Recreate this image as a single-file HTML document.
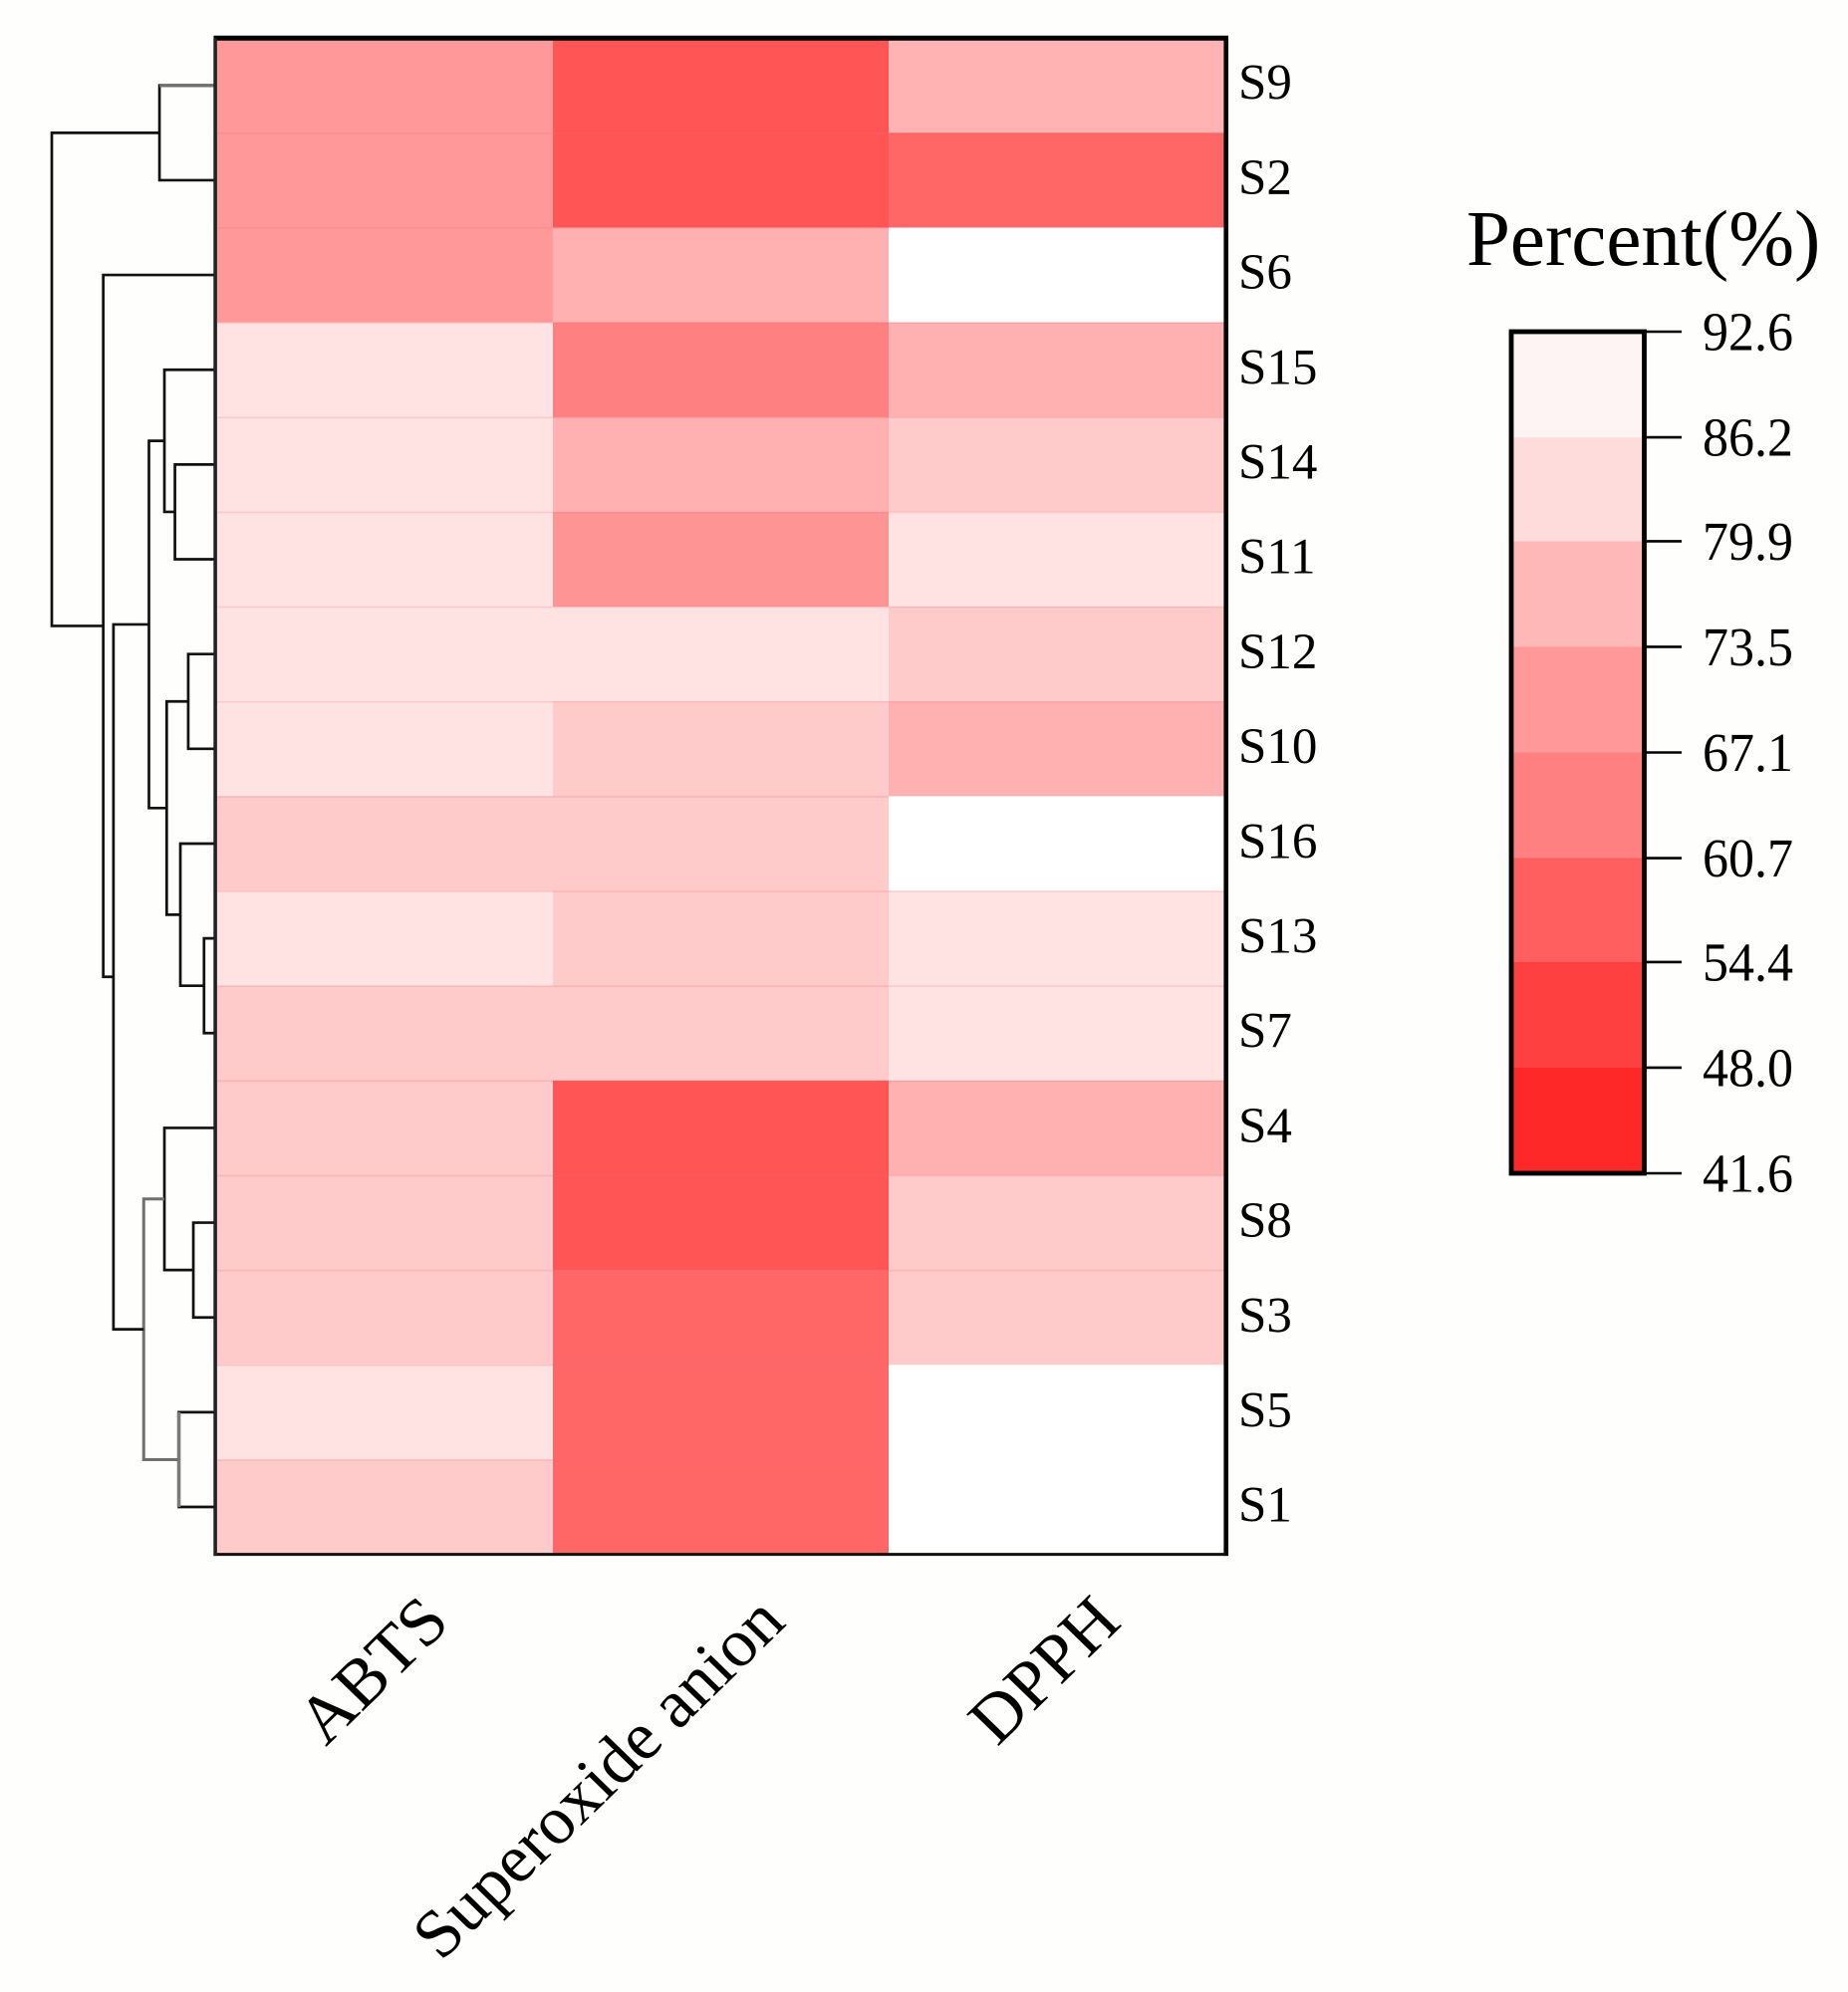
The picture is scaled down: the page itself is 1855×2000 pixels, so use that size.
<!DOCTYPE html>
<html lang="en">
<head>
<meta charset="utf-8">
<title>Antioxidant activity heatmap</title>
<style>
html,body{margin:0;padding:0;background:#fefefd;}
svg{display:block;}
text{font-family:"Liberation Serif",serif;fill:#000;}
</style>
</head>
<body>
<svg id="chart" xmlns="http://www.w3.org/2000/svg" width="1855" height="2000" viewBox="0 0 1855 2000">
<rect x="0" y="0" width="1855" height="2000" fill="#fefefd"/>
<g id="cells"></g>
<g id="dendrogram"></g>
<g id="frame"></g>
<g id="rowLabels"></g>
<g id="colLabels"></g>
<text x="1472" y="266" font-size="79">Percent(%)</text>
<g id="legend"></g>
</svg>
<script>
const rowNames = ["S9","S2","S6","S15","S14","S11","S12","S10","S16","S13","S7","S4","S8","S3","S5","S1"];
const colNames = ["ABTS","Superoxide anion","DPPH"];
const abtsValues = [69.5,69.5,69.2,86.3,86.3,86.3,86.3,86.3,80.6,86.3,80.6,80.6,80.6,80.6,86.3,80.6];
const superoxideValues = [54.1,54.1,74.7,63.8,74.7,68.3,86.3,80.6,80.6,80.6,80.6,54.1,54.1,58.0,58.0,58.0];
const dpphValues = [75.4,58.0,92.6,74.7,80.6,86.3,80.6,74.7,92.6,86.3,86.3,74.7,80.6,80.6,92.6,92.6];
const legendTicks = [92.6,86.2,79.9,73.5,67.1,60.7,54.4,48.0,41.6];
const legendLevels = [90.1,84.7,76.5,69.5,63.8,56.3,49.3,43.9];
/* dendrogram merges: [left child, right child, merge distance]; numbers are earlier merges by id */
const merges = [
  ["S9","S2",34.5],
  ["S14","S11",25.1],
  ["S15",1,31.5],
  ["S12","S10",17.0],
  ["S13","S7",7.4],
  ["S16",4,21.8],
  [3,5,30.1],
  [2,6,40.9],
  ["S8","S3",13.9],
  ["S4",8,31.5],
  ["S5","S1",22.7],
  [9,10,44.1],
  [7,11,62.5],
  ["S6",12,68.7],
  [0,13,100]
];

const NS = "http://www.w3.org/2000/svg";
function make(tag, attrs, parent) {
  const el = document.createElementNS(NS, tag);
  for (const k in attrs) el.setAttribute(k, attrs[k]);
  parent.appendChild(el);
  return el;
}
const rowStep = 95.15;
const rowY = i => 38.2 + i * rowStep;
const labelY = i => 99.7 + i * 95.2;
const colX = j => 218 + j * 337;
const distX = d => 217 - d * 1.65;
const legendY = v => 333 + (92.6 - v) / 51 * 845;
function colorOf(v) {
  const t = Math.max(0, Math.min(1, (v - 41.6) / 51));
  const g = Math.round(30 + t * 225);
  return "rgb(255," + g + "," + g + ")";
}

/* heatmap cells */
const cellsG = document.getElementById("cells");
const columns = [abtsValues, superoxideValues, dpphValues];
columns.forEach((vals, j) => {
  vals.forEach((v, i) => {
    const r = make("rect", {x: colX(j), y: rowY(i), width: 337.4, height: rowStep + 0.3, fill: colorOf(v)}, cellsG);
    
    
    if (i > 0 && v < 92) {
      const s = make("line", {x1: colX(j), x2: colX(j) + 337, y1: rowY(i) + 0.5, y2: rowY(i) + 0.5, stroke: "rgba(240,110,120,0.22)", "stroke-width": 1.6}, cellsG);
      
      
    }
  });
});

/* dendrogram */
const dendroG = document.getElementById("dendrogram");
const nodePos = [];
function pos(c) {
  if (typeof c === "number") return nodePos[c];
  return {x: distX(0), y: rowY(rowNames.indexOf(c)) + rowStep / 2};
}
merges.forEach((m, id) => {
  const a = pos(m[0]), b = pos(m[1]), x = distX(m[2]);
  const isGrey = id === 11;
  const p = make("path", {
    d: "M" + a.x + " " + a.y + "H" + x + "V" + b.y + "H" + b.x,
    fill: "none", stroke: isGrey ? "#707070" : "#111", "stroke-width": isGrey ? 3 : 2.7
  }, dendroG);
  
  
  if (id === 10) {
    const g1 = make("line", {x1: x, x2: x, y1: a.y, y2: b.y, stroke: "#7a7a7a", "stroke-width": 3.6}, dendroG);
    
    
  }
  if (id === 0) {
    const g2 = make("line", {x1: x, x2: a.x, y1: a.y, y2: a.y, stroke: "#707070", "stroke-width": 3.4}, dendroG);
    
    
  }
  nodePos.push({x: x, y: (a.y + b.y) / 2});
});

/* frame */
const frameG = document.getElementById("frame");
const fx0 = colX(0) - 1.5, fx1 = colX(3) + 1.7, fy0 = rowY(0), fy1 = rowY(16);
const edgeTop = make("line", {x1: fx0 - 2, x2: fx1 + 2.3, y1: fy0, y2: fy0, stroke: "#000", "stroke-width": 5}, frameG);


const edgeRight = make("line", {x1: fx1, x2: fx1, y1: fy0, y2: fy1 + 1.5, stroke: "#000", "stroke-width": 4.6}, frameG);


const edgeBottom = make("line", {x1: fx0 - 2, x2: fx1, y1: fy1, y2: fy1, stroke: "#111", "stroke-width": 3}, frameG);


const edgeLeft = make("line", {x1: fx0 - 0.4, x2: fx0 - 0.4, y1: fy0, y2: fy1 + 1.5, stroke: "#222", "stroke-width": 3.6}, frameG);



/* row labels */
const rowG = document.getElementById("rowLabels");
rowNames.forEach((n, i) => {
  const t = make("text", {x: 1243, y: labelY(i), "font-size": 51}, rowG);
  t.textContent = n;
  
  
});

/* column labels */
const colG = document.getElementById("colLabels");
colNames.forEach((n, j) => {
  const cx = colX(j) + 168.5 + 67;
  const t = make("text", {x: 0, y: 0, "font-size": 70, "text-anchor": "end", transform: "translate(" + cx + " 1631) scale(1 0.975) rotate(-45)"}, colG);
  t.textContent = n;
  
  
});

/* legend */
const legG = document.getElementById("legend");
const lx0 = 1517, lx1 = 1650.5, tickEnd = 1688;
legendLevels.forEach((lev, k) => {
  const hi = legendTicks[k], lo = legendTicks[k + 1];
  const r = make("rect", {x: lx0, y: legendY(hi), width: lx1 - lx0, height: legendY(lo) - legendY(hi) + 0.4, fill: colorOf(lev)}, legG);
  
  
});
const legBox = make("rect", {x: lx0, y: legendY(92.6), width: lx1 - lx0, height: legendY(41.6) - legendY(92.6), fill: "none", stroke: "#000", "stroke-width": 4.8}, legG);


legendTicks.forEach(v => {
  const y = legendY(v);
  const l = make("line", {x1: lx1, x2: tickEnd, y1: y, y2: y, stroke: "#000", "stroke-width": 2.6}, legG);
  
  
  const t = make("text", {x: 0, y: 0, "font-size": 52, transform: "translate(1709 " + (y + 18.5) + ") scale(1 1.05)"}, legG);
  t.textContent = v.toFixed(1);
  
  
});
</script>
</body>
</html>
